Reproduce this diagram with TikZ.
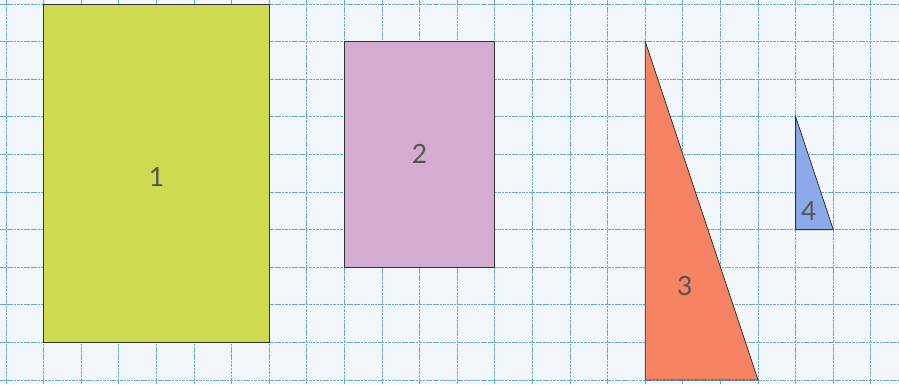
\documentclass[tikz,border=0pt]{standalone}
\usepackage{fontspec}
\setmainfont{Lato}
\definecolor{paper}{RGB}{241,247,251}
\definecolor{gridblue}{RGB}{105,170,210}
\definecolor{limefill}{RGB}{206,219,80}
\definecolor{lilacfill}{RGB}{212,172,210}
\definecolor{coralfill}{RGB}{246,132,98}
\definecolor{skyfill}{RGB}{140,170,234}
\definecolor{labelgrey}{RGB}{85,85,85}
\tikzset{
    gridline/.style={gridblue, line width=0.5pt, dash pattern=on 2pt off 0.6pt},
    figure/.style={draw=black!80, line width=0.6pt},
    figlabel/.style={text=labelgrey, font=\fontsize{20}{24}\selectfont}
}

\begin{document}
\begin{tikzpicture}[semithick]
            \fill[paper] (-0.16, -0.107) rectangle (23.75, 10.107);
            \useasboundingbox (-0.16, -0.107) rectangle (23.75, 10.107);
            \draw[gridline] (-0.16, -0.107) grid (23.75, 10.107);
            % rectangles
            \draw[figure, fill=limefill] (1, 1) rectangle (7, 10);
            \draw[figure, fill=lilacfill] (9, 3) rectangle (13, 9);
            % triangles
            \draw[figure, fill=coralfill] (17, 9) -- (17, 0) -- (20, 0) -- cycle;
            \draw[figure, fill=skyfill] (21, 7) -- (21, 4) -- (22, 4) -- cycle;
            \node[figlabel] (one) at (4, 5.4) {1};
            \node[figlabel] (two) at (11, 6) {2};
            \node[figlabel] (three) at (18.05, 2.5) {3};
            \node[figlabel] (four) at (21.35, 4.5) {4};
        \end{tikzpicture}
\end{document}
